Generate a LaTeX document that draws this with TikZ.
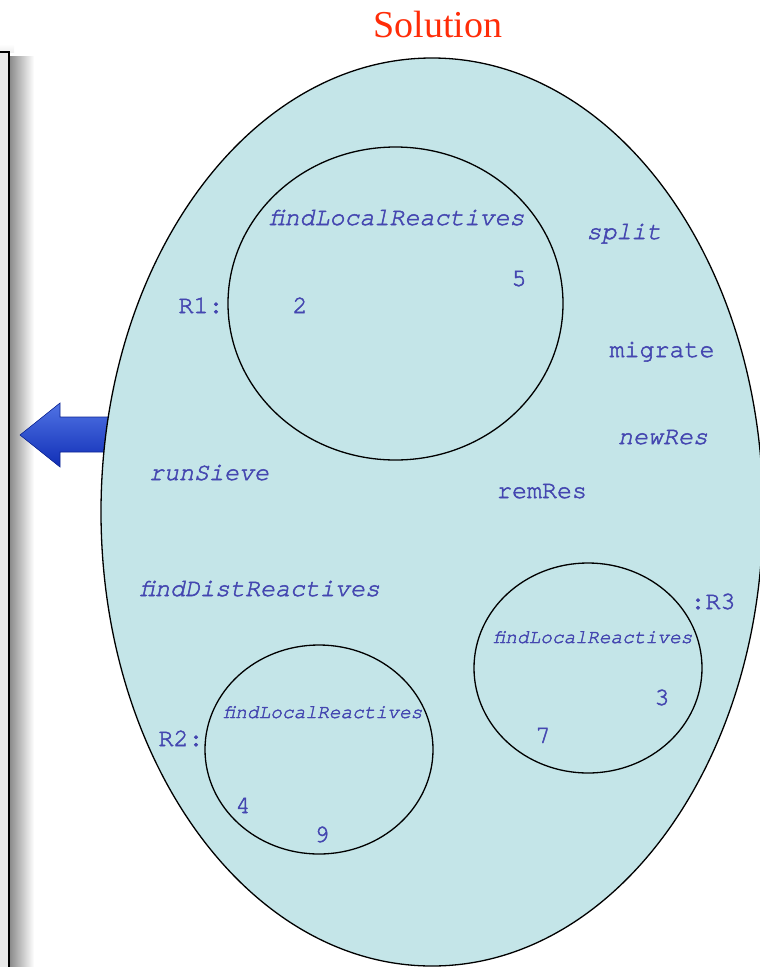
\documentclass[tikz,border=0pt]{standalone}
\usepackage{fontspec}
\setmainfont{Liberation Serif}
\setmonofont[FakeBold=2]{TeX Gyre Cursor}
\definecolor{solfill}{RGB}{196,229,232}
\definecolor{fnblue}{RGB}{68,70,176}
\definecolor{solred}{RGB}{255,44,8}
\definecolor{arrowhi}{RGB}{80,115,228}
\definecolor{arrowlo}{RGB}{16,46,182}
\begin{document}
\begin{tikzpicture}[x=1pt, y=-1pt,
    lbl/.style={text=fnblue, inner sep=0pt, anchor=base, font=\ttfamily\fontsize{25}{25}\selectfont},
    fn/.style={lbl, font=\ttfamily\itshape\fontsize{25}{25}\selectfont},
    sfn/.style={lbl, font=\ttfamily\itshape\fontsize{19.5}{19.5}\selectfont},
    rgn/.style={draw=black, line width=1.3pt}]
    \useasboundingbox (0,0) rectangle (760,967);
    % panel on the left, with its shadow
    \fill[gray!18] (-5,52) rectangle (9,975);
    \shade[left color=black!45, right color=white] (10,56) rectangle (34,975);
    \shade[top color=white, bottom color=black!6] (0,44) rectangle (14,52);
    \draw[line width=1.5pt] (-5,52) -- (9,52) -- (9,975);
    % arrow pointing out of the solution
    \shade[top color=arrowhi, bottom color=arrowlo, draw=arrowlo!80!black, line width=0.6pt]
      (20,435) -- (60,403) -- (60,417) -- (115,417) -- (115,452) -- (60,452) -- (60,467) -- cycle;
    % the solution
    \filldraw[fill=solfill, rgn] (432,512) ellipse [x radius=331pt, y radius=454pt];
    \node[text=solred, font=\fontsize{38}{38}\selectfont, anchor=base] (sol) at (438,37) {Solution};
    % reactive regions
    \draw[rgn] (395.5,303.5) ellipse [x radius=167.5pt, y radius=156.5pt];
    \draw[rgn] (588,668) ellipse [x radius=114pt, y radius=105pt];
    \draw[rgn] (319,749.5) ellipse [x radius=114pt, y radius=104.5pt];
    % region R1
    \node[fn] (flrA) at (397,225) {findLocalReactives};
    \node[lbl] (rA) at (201,313) {R1:};
    \node[lbl] (two) at (300,313) {2};
    \node[lbl] (five) at (519,286) {5};
    % region R3
    \node[sfn] (flrC) at (593,643) {findLocalReactives};
    \node[lbl] (rC) at (713,609) {:R3};
    \node[lbl] (three) at (662,705) {3};
    \node[lbl] (seven) at (543,743) {7};
    % region R2
    \node[sfn] (flrB) at (323,718) {findLocalReactives};
    \node[lbl] (rB) at (181,746) {R2:};
    \node[lbl] (four) at (243,813) {4};
    \node[lbl] (nine) at (322,842) {9};
    % free molecules
    \node[fn] (split) at (624,239) {split};
    \node[lbl] (migrate) at (662,357) {migrate};
    \node[fn] (newres) at (663,444) {newRes};
    \node[fn] (sieve) at (209,480) {runSieve};
    \node[lbl] (remres) at (542,498) {remRes};
    \node[fn] (distr) at (260,596) {findDistReactives};
\end{tikzpicture}
\end{document}
